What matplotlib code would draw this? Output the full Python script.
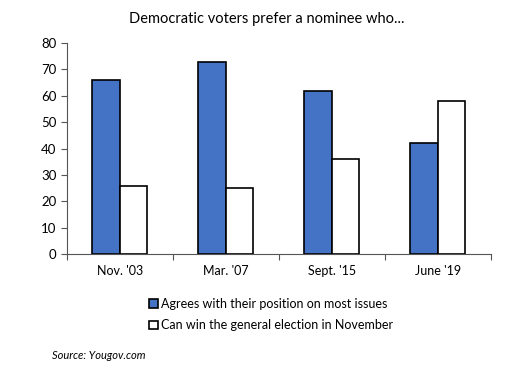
import numpy as np
import matplotlib
matplotlib.use("Agg")
import matplotlib.pyplot as plt
from matplotlib.patches import Patch

# データ
categories = ["Nov. '03", "Mar. '07", "Sept. '15", "June '19"]
agrees = [66, 73, 62, 42]
can_win = [26, 25, 36, 58]
labels = ["Agrees with their position on most issues",
          "Can win the general election in November"]

plt.rcParams['font.family'] = ['Lato', 'DejaVu Sans']

fig = plt.figure(figsize=(5.07, 3.71), dpi=100)
ax = fig.add_axes([0.132, 0.315, 0.836, 0.569])

x = np.arange(len(categories))
w = 0.26
ax.bar(x - w / 2, agrees, w, color='#4472c4', edgecolor='black', linewidth=1.2)
ax.bar(x + w / 2, can_win, w, color='white', edgecolor='black', linewidth=1.2)

ax.set_xlim(-0.5, len(categories) - 0.5)
ax.set_ylim(0, 80)
ax.set_yticks(range(0, 81, 10))
ax.set_xticks(np.arange(-0.5, len(categories), 1.0))
ax.set_xticklabels([])
ax.set_xticks(x, minor=True)
ax.set_xticklabels(categories, minor=True, fontsize=9)
ax.tick_params(axis='x', which='minor', length=0, pad=8)
ax.tick_params(axis='x', which='major', length=4, width=0.8, color='#555555')
ax.tick_params(axis='y', length=4, width=0.8, color='#555555', labelsize=9.5)

for s in ['top', 'right']:
    ax.spines[s].set_visible(False)
for s in ['left', 'bottom']:
    ax.spines[s].set_color('#555555')
    ax.spines[s].set_linewidth(0.8)

fig.text(0.527, 0.948, 'Democratic voters prefer a nominee who...',
         ha='center', va='center', fontsize=10.5)

handles = [Patch(facecolor='#4472c4', edgecolor='black', linewidth=1.2),
           Patch(facecolor='white', edgecolor='black', linewidth=1.2)]
fig.legend(handles, labels, loc='center', bbox_to_anchor=(0.535, 0.152),
           frameon=False, fontsize=9, handlelength=0.7, handleheight=0.7,
           handletextpad=0.3, labelspacing=0.75)

fig.text(0.103, 0.043, 'Source: Yougov.com', ha='left', va='center',
         fontsize=8, style='italic')

fig.savefig('out.png', dpi=100)
